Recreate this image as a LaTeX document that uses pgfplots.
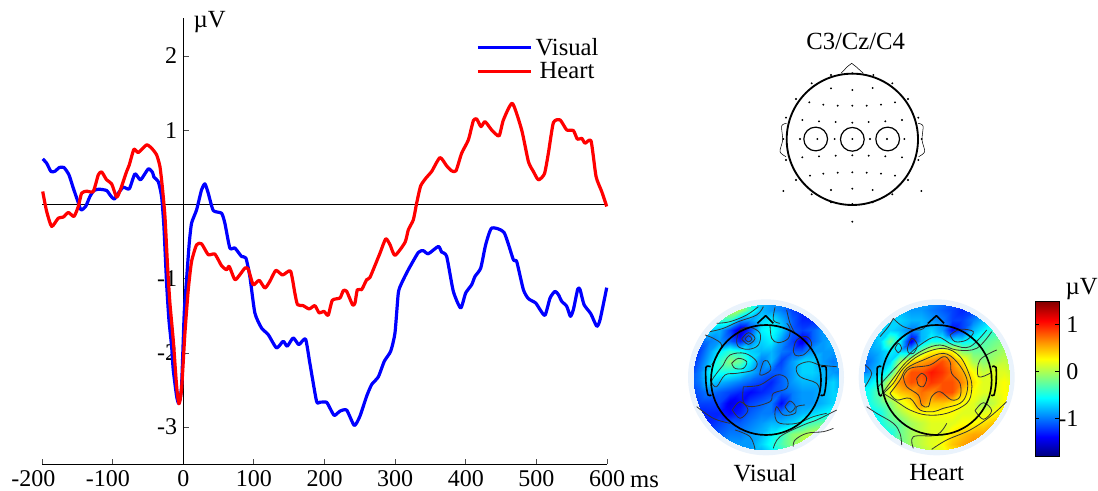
\documentclass[border=0pt]{standalone}
\usepackage{fontspec}
\setmainfont{Liberation Serif}
\usepackage{pgfplots}
\pgfplotsset{compat=1.18}
\newcommand{\bigf}{\fontsize{18.5}{20}\selectfont}
\newcommand{\tickf}{\fontsize{18}{20}\selectfont}
\definecolor{ringc}{HTML}{EAF3FC}
\pgfplotsset{
  hidden/.style={hide axis, scale only axis, clip=false, y dir=reverse},
  cont/.style={no marks, smooth, tension=0.6, color=black!80, line width=0.6pt},
  head/.style={no marks, black, line width=1.2pt, line join=round},
  topo/.style={hide axis, scale only axis, at={(510pt,0.75pt)}, anchor=south west, width=313.5pt, height=150pt,
    xmin=0,xmax=1254,ymin=0,ymax=600, y dir=reverse, clip=false, colormap/jet, point meta min=-1.95, point meta max=1.5},
}
\pgfplotstableread{
t v
-199 .614
-193.4 .556
-187.3 .444
-181.6 .448
-175.5 .498
-168.9 .498
-161.8 .399
-155.7 .220
-150 .063
-144.8 -.072
-138.2 -.027
-132.1 .108
-126.4 .188
-119.3 .206
-108.5 .188
-102.8 .117
-97.6 .072
-92 .152
-84.9 .233
-76.4 .211
-68.4 .413
-60.4 .332
-49.5 .480
-43.4 .430
-41.5 .368
-35.4 .309
-30.7 .108
-27.4 -.296
-23.6 -1.058
-20.3 -1.552
-16.5 -1.910
-14.2 -2.224
-9.4 -2.583
-6.1 -2.682
-2.4 -2.448
1.4 -1.462
4.7 -1.013
8.5 -.520
11.8 -.251
18.9 -.072
25.9 .197
30.7 .278
35.4 .152
42.5 -.081
54.2 -.117
58.9 -.251
66 -.587
73.1 -.587
82.5 -.700
88.7 -.722
94.3 -.969
101.4 -1.462
110.8 -1.664
120.3 -1.753
132.1 -1.933
141.5 -1.843
147.2 -1.910
155.7 -1.798
163.7 -1.888
173.1 -1.812
179.2 -2.135
188.7 -2.650
193.4 -2.664
202.8 -2.664
207.5 -2.740
213.9 -2.843
221.9 -2.785
231.4 -2.771
242.2 -2.978
250.2 -2.852
259.7 -2.583
266.8 -2.426
276.2 -2.323
284.7 -2.112
293.7 -1.978
299.8 -1.731
304.5 -1.193
309.3 -1.058
318.7 -.879
332.9 -.646
340 -.623
347 -.664
361.2 -.565
365.9 -.641
373 -.700
382.4 -1.170
392.8 -1.395
399.9 -1.193
408.4 -1.081
413.1 -.969
421.2 -.857
428.2 -.543
436.7 -.318
454.2 -.377
467.4 -.744
472.1 -.767
481.6 -1.148
488.7 -1.269
499 -1.327
505.2 -1.417
512.3 -1.493
519.4 -1.260
526.4 -1.170
531.2 -1.215
535.9 -1.305
543 -1.372
548.2 -1.507
552.4 -1.417
558.6 -1.139
561.9 -1.148
567.5 -1.350
577 -1.471
585.5 -1.641
590.2 -1.552
599.6 -1.121
}\visualerp
\pgfplotstableread{
t v
-199 .175
-193.4 -.094
-186.3 -.296
-176.9 -.184
-169.8 -.170
-162.7 -.108
-154.7 -.161
-148.6 -.027
-143.9 .152
-136.8 .179
-127.4 .175
-120.3 .399
-115.6 .439
-108.5 .332
-101.4 .278
-94.3 .099
-88.7 .206
-80.2 .444
-76.4 .534
-69.8 .744
-63.7 .700
-51.9 .803
-44.8 .758
-37.7 .668
-33 .511
-29.7 .242
-25.9 -.161
-22.2 -.834
-18.9 -1.327
-14.2 -1.821
-9.4 -2.448
-6.1 -2.686
-2.4 -2.493
2.4 -1.731
7.1 -1.148
11.8 -.767
18.9 -.543
25.9 -.529
35.4 -.677
44.8 -.668
54.2 -.825
61.3 -.879
65.1 -.834
73.1 -1.013
80.2 -.946
87.3 -.857
92 -.870
99.1 -1.081
107.5 -1.022
115.6 -1.126
122.6 -1.036
131.1 -.888
140.6 -.951
151.9 -.897
158 -1.193
161.8 -1.350
169.8 -1.363
178.3 -1.408
186.3 -1.363
192.5 -1.462
199.1 -1.439
205.2 -1.493
211.1 -1.291
221.9 -1.260
226.6 -1.161
231.4 -1.170
239.8 -1.354
243.2 -1.327
246.5 -1.148
252.6 -1.148
259.7 -1.013
264.4 -.982
278.6 -.655
286.7 -.462
292.8 -.543
299.8 -.686
314 -.511
318.7 -.341
325.8 -.206
330.5 .018
336.2 .251
344.7 .368
351.7 .444
363.5 .632
373 .520
380.1 .453
386.2 .453
394.2 .691
403.7 .870
410.8 1.130
415.5 1.152
421.6 1.049
427.3 1.117
436.7 1.004
447.1 .924
453.3 1.139
466 1.363
479.2 1.004
488.7 .578
495.8 .444
502.9 .332
511.4 .413
517 .691
524.1 1.103
533.6 1.139
543 1.004
552.4 .996
558.1 .879
564.2 .892
568.9 .825
577.4 .857
584.5 .377
592.5 .175
599.6 -.027
}\hearterp
\begin{document}
\begin{tikzpicture}[font=\bigf]
\path[use as bounding box] (0,0) rectangle (823.5pt,368.25pt);
% main ERP axis
\begin{axis}[
  scale only axis, at={(31.5pt,20.25pt)}, anchor=south west,
  width=423.75pt, height=334.5pt,
  xmin=-200, xmax=600, ymin=-3.497, ymax=2.513,
  axis x line=bottom, axis y line=center, axis line style={-, line width=0.7pt},
  tick style={black!70, line width=0.6pt}, tick align=inside, major tick length=4pt,
  xtick={-200,-100,0,100,200,300,400,500,600},
  xticklabels={-200\kern13pt,-100\kern7pt,0,100,200,300,400,500,600},
  ytick={-3,-2,-1,1,2}, yticklabels={-3,-2,-1,1,2},
  tick label style={font=\tickf},
  xticklabel style={yshift=-1.5pt},
  yticklabel style={xshift=-1pt},
  clip=false,
  legend style={at={(0.766,0.962)}, anchor=north west, draw=none, fill=none, font=\bigf, row sep=1.5pt, inner sep=1pt, nodes={inner ysep=1.2pt}},
  legend image code/.code={\draw[#1] (0pt,0pt) -- (40pt,0pt);},
]
\addplot[black, line width=0.7pt, forget plot] coordinates {(-200,0)(600,0)};
\addplot[blue, line width=2.4pt, smooth, tension=0.35, line join=round] table[x=t,y=v]{\visualerp};
\addlegendentry{Visual}
\addplot[red, line width=2.4pt, smooth, tension=0.35, line join=round] table[x=t,y=v]{\hearterp};
\addlegendentry{Heart}
\node[anchor=west] at (axis cs:8,2.46) {µV};
\node[anchor=west] at (axis cs:626,-3.74) {ms};
\end{axis}
% electrode montage
\begin{axis}[hidden, at={(570pt,195.75pt)}, anchor=south west, width=135pt, height=157.5pt,
  xmin=0,xmax=540,ymin=0,ymax=630]
\addplot[only marks, mark=*, mark size=0.5pt, black] coordinates {
(213,165)(340,165)(277,160)(155,190)(397,190)(213,205)(277,210)(338,204)(108,237)(444,237)
(148,247)(405,247)(190,254)(233,257)(277,257)(320,257)(363,254)(78,293)(475,293)
(127,300)(177,304)(227,306)(277,308)(326,306)(376,304)(426,300)
(70,357)(120,357)(172,357)(224,357)(277,357)(330,357)(381,357)(433,357)(485,357)
(127,412)(177,409)(227,407)(277,406)(326,407)(376,409)(426,412)(78,420)(475,420)
(150,467)(190,461)(233,458)(277,457)(320,458)(363,461)(405,467)(108,480)(444,480)
(70,513)(484,513)(213,510)(277,506)(338,510)(155,523)(397,523)(213,547)(277,552)(338,547)(277,605)};
\draw[black, line width=1.4pt] (axis cs:277,358) circle (49.25pt);
\draw[black, line width=0.9pt] (axis cs:167,357) circle (8.9pt);
\draw[black, line width=0.9pt] (axis cs:277,358) circle (8.9pt);
\draw[black, line width=0.9pt] (axis cs:383,357) circle (8.9pt);
\addplot[no marks, black, line width=0.4pt] coordinates {(243,160)(262,140)(275,130)(288,140)(310,160)};
\addplot[no marks, smooth, black, line width=0.4pt] coordinates {(80,310)(65,318)(68,360)(60,395)(78,410)};
\addplot[no marks, smooth, black, line width=0.4pt] coordinates {(474,310)(489,318)(486,360)(494,395)(476,410)};
\node[font=\bigf] at (axis cs:287,65) {C3/Cz/C4};
\end{axis}
% Visual map
\begin{axis}[topo]
\draw[draw=none, fill=ringc] (axis cs:258,262) circle (58.5pt);
\draw[draw=none, fill=ringc] (axis cs:770,262) circle (58.5pt);
\end{axis}
\begin{scope}
\clip (510pt,0.75pt) ++(64.5pt,84.5pt) circle (54.5pt);
\begin{axis}[topo]
\addplot[matrix plot*, shader=interp, mesh/cols=15, point meta=explicit]
 table[row sep=\\, header=false, x expr={40+31*mod(\coordindex,15)}, y expr={44+31*floor(\coordindex/15)}, meta index=0]{
-0.6\\-0.6\\-0.5\\-0.4\\-0.2\\-0.1\\-0.4\\-0.9\\-1.0\\-1.1\\-1.2\\-1.3\\-1.3\\-1.3\\-1.3\\
-0.5\\-0.5\\-0.4\\-0.2\\0.0\\-0.1\\-0.5\\-0.9\\-1.0\\-1.1\\-1.3\\-1.4\\-1.4\\-1.4\\-1.4\\
-0.8\\-0.8\\-0.6\\-0.5\\-0.5\\-1.0\\-1.0\\-0.8\\-0.7\\-0.9\\-1.2\\-1.4\\-1.4\\-1.4\\-1.3\\
-1.0\\-0.9\\-0.8\\-0.9\\-1.3\\-1.7\\-1.3\\-0.7\\-0.6\\-0.8\\-1.2\\-1.3\\-1.2\\-1.0\\-1.0\\
-1.3\\-1.2\\-1.1\\-1.0\\-1.2\\-1.4\\-1.1\\-0.8\\-0.7\\-1.0\\-1.3\\-1.6\\-1.2\\-1.0\\-0.9\\
-1.5\\-1.3\\-1.0\\-0.7\\-0.5\\-0.6\\-0.8\\-0.9\\-0.9\\-1.1\\-1.2\\-1.2\\-1.0\\-1.0\\-1.0\\
-1.5\\-1.2\\-0.9\\-0.5\\-0.2\\-0.3\\-0.7\\-1.1\\-0.9\\-1.3\\-1.0\\-0.8\\-0.8\\-1.0\\-1.1\\
-1.4\\-1.1\\-0.7\\-0.6\\-0.6\\-0.7\\-0.9\\-1.1\\-1.2\\-1.2\\-1.0\\-0.8\\-0.8\\-0.9\\-1.0\\
-1.3\\-1.1\\-0.8\\-0.9\\-1.0\\-1.1\\-1.2\\-1.3\\-1.4\\-1.2\\-1.0\\-0.9\\-0.9\\-0.9\\-0.8\\
-1.3\\-1.2\\-1.1\\-1.2\\-1.3\\-1.4\\-1.5\\-1.4\\-1.3\\-1.2\\-1.1\\-1.0\\-1.0\\-0.9\\-0.8\\
-1.4\\-1.3\\-1.3\\-1.3\\-1.6\\-1.5\\-1.3\\-1.2\\-1.1\\-1.5\\-1.1\\-1.0\\-1.0\\-0.9\\-0.8\\
-1.4\\-1.4\\-1.4\\-1.4\\-1.5\\-1.4\\-1.2\\-1.1\\-1.1\\-1.1\\-1.0\\-0.9\\-0.8\\-0.7\\-0.6\\
-1.4\\-1.4\\-1.4\\-1.3\\-1.2\\-1.2\\-1.1\\-1.0\\-0.9\\-0.9\\-0.8\\-0.6\\-0.4\\-0.3\\-0.2\\
-1.3\\-1.3\\-1.3\\-1.2\\-1.1\\-1.1\\-1.0\\-0.9\\-0.7\\-0.5\\-0.2\\-0.1\\0.0\\0.0\\0.0\\
-1.2\\-1.2\\-1.2\\-1.1\\-1.0\\-1.0\\-1.0\\-0.8\\-0.6\\-0.4\\-0.2\\0.0\\0.0\\0.0\\0.0\\
};
\end{axis}
\end{scope}
% Heart map
\begin{scope}
\clip (510pt,0.75pt) ++(192.5pt,84.5pt) circle (54.5pt);
\begin{axis}[topo]
\addplot[matrix plot*, shader=interp, mesh/cols=15, point meta=explicit]
 table[row sep=\\, header=false, x expr={552+31*mod(\coordindex,15)}, y expr={44+31*floor(\coordindex/15)}, meta index=0]{
-1.0\\-1.0\\-1.0\\-1.0\\-1.0\\-1.0\\-1.0\\-1.0\\-1.1\\-1.2\\-1.3\\-1.3\\-1.2\\-1.1\\-1.0\\
-1.1\\-1.1\\-1.0\\-0.9\\-0.9\\-1.0\\-1.0\\-1.1\\-1.2\\-1.3\\-1.4\\-1.3\\-1.1\\-1.0\\-0.9\\
-1.1\\-1.0\\-0.9\\-0.8\\-0.8\\-0.9\\-0.9\\-1.0\\-1.1\\-1.3\\-1.3\\-1.1\\-0.9\\-0.7\\-0.6\\
-1.1\\-1.0\\-0.8\\-0.8\\-0.9\\-1.1\\-0.9\\-0.8\\-1.0\\-1.5\\-1.3\\-0.9\\-0.7\\-0.5\\-0.4\\
-1.1\\-1.0\\-0.8\\-0.3\\-0.7\\-1.6\\-0.9\\-0.6\\-0.6\\-0.7\\-0.7\\-0.6\\-0.4\\-0.3\\-0.2\\
-1.1\\-1.0\\-0.9\\-0.7\\-0.8\\-0.8\\-0.2\\0.2\\0.3\\0.2\\-0.2\\-0.3\\-0.3\\-0.2\\-0.1\\
-1.2\\-1.1\\-0.9\\-0.8\\-0.1\\0.3\\0.5\\0.6\\0.8\\0.6\\0.3\\-0.1\\-0.2\\-0.1\\0.0\\
-1.3\\-1.0\\-0.8\\-0.5\\0.3\\0.8\\0.8\\1.0\\0.9\\0.7\\0.5\\0.2\\0.0\\0.1\\0.1\\
-1.0\\-0.8\\-0.5\\0.1\\0.6\\0.8\\0.7\\0.9\\0.8\\0.8\\0.6\\0.3\\0.1\\0.1\\0.2\\
-0.8\\-0.6\\-0.3\\0.2\\0.4\\0.5\\0.7\\0.6\\0.8\\0.8\\0.4\\0.2\\0.1\\0.1\\0.2\\
-0.7\\-0.6\\-0.4\\-0.2\\0.1\\0.3\\0.6\\0.4\\0.4\\0.3\\0.2\\0.1\\-0.1\\0.0\\0.2\\
-0.7\\-0.7\\-0.6\\-0.3\\-0.1\\0.1\\0.2\\0.2\\0.2\\0.2\\0.1\\0.1\\0.1\\0.2\\0.3\\
-0.7\\-0.7\\-0.6\\-0.4\\-0.3\\-0.1\\0.0\\0.1\\0.1\\0.1\\0.2\\0.2\\0.3\\0.4\\0.4\\
-0.7\\-0.7\\-0.7\\-0.6\\-0.3\\-0.1\\0.0\\0.1\\0.1\\0.3\\0.4\\0.5\\0.5\\0.5\\0.5\\
-0.7\\-0.7\\-0.7\\-0.5\\-0.3\\-0.1\\0.0\\0.1\\0.2\\0.4\\0.5\\0.6\\0.6\\0.6\\0.6\\
};
\end{axis}
\end{scope}
% overlay: contours, heads and labels
\begin{axis}[topo]
% Visual contours
\addplot[cont] coordinates {(110,100)(150,95)(200,75)(235,50)};
\addplot[cont] coordinates {(90,125)(130,115)(175,95)(230,75)(250,50)};
\addplot[cont] coordinates {(170,150)(180,120)(210,112)(240,130)(235,165)(205,178)(175,170)(170,150)};
\addplot[cont] coordinates {(185,147)(205,128)(225,145)(205,163)(185,147)};
\addplot[cont] coordinates {(195,147)(205,137)(216,147)(205,156)(195,147)};
\addplot[cont] coordinates {(270,105)(275,145)(295,158)(325,145)(330,115)(320,100)};
\addplot[cont] coordinates {(340,180)(350,150)(380,140)(395,165)(370,195)(345,195)(340,180)};
\addplot[cont] coordinates {(155,220)(175,205)(200,215)(190,235)(165,235)(155,220)};
\addplot[cont] coordinates {(130,225)(150,195)(195,190)(230,215)(220,240)(170,250)(135,255)(110,290)(95,275)(110,250)(130,225)};
\addplot[cont] coordinates {(190,290)(240,285)(290,255)(320,265)(320,295)(280,310)(270,335)(215,350)(190,335)(190,290)};
\addplot[cont] coordinates {(157,360)(180,335)(204,360)(180,385)(157,360)};
\addplot[cont] coordinates {(315,350)(330,333)(346,350)(330,367)(315,350)};
\addplot[cont] coordinates {(375,345)(350,350)(345,370)(310,375)(290,350)(285,380)(300,400)(350,400)(400,380)(440,370)};
\addplot[cont] coordinates {(340,470)(345,450)(380,430)(430,425)(460,415)};
\addplot[cont] coordinates {(280,475)(300,440)(370,405)(410,390)(470,360)};
\addplot[cont] coordinates {(50,350)(100,385)(150,400)};
\addplot[cont] coordinates {(225,478)(210,440)(165,420)};
\addplot[cont] coordinates {(470,230)(420,225)(385,215)(350,230)(360,260)(410,280)(420,310)};
\addplot[cont] coordinates {(285,52)(280,90)(300,100)};
\addplot[cont] coordinates {(320,60)(330,100)(345,130)};
\addplot[cont] coordinates {(75,135)(100,145)(125,165)(110,200)(95,225)};
\addplot[cont] coordinates {(250,215)(262,212)(272,240)(240,255)(250,215)};
% Heart contours
\addplot[cont] coordinates {(610,310)(640,280)(670,235)(720,195)(790,175)(840,200)(870,260)(875,300)(860,340)(800,370)(740,375)(690,360)(650,335)(610,310)};
\addplot[cont] coordinates {(630,310)(660,270)(680,235)(730,210)(790,190)(830,215)(860,265)(860,310)(840,340)(790,355)(760,365)(720,360)(690,325)(650,330)(630,310)};
\addplot[cont] coordinates {(670,260)(690,235)(750,225)(790,200)(810,215)(815,250)(840,280)(840,320)(815,330)(780,305)(755,320)(745,350)(725,345)(715,315)(680,290)(670,260)};
\addplot[cont] coordinates {(710,265)(725,250)(740,265)(730,290)(715,285)(710,265)};
\addplot[cont] coordinates {(600,320)(640,265)(680,215)(730,180)(780,165)(830,180)(890,175)(935,125)};
\addplot[cont] coordinates {(595,290)(640,240)(680,200)(720,165)(770,140)(820,165)(870,170)(920,120)};
\addplot[cont] coordinates {(682,175)(695,145)(712,165)(700,190)(685,188)(682,175)};
\addplot[cont] coordinates {(645,175)(655,160)(665,175)(655,188)(645,175)};
\addplot[cont] coordinates {(810,135)(840,118)(880,125)(860,150)(825,155)(810,135)};
\addplot[cont] coordinates {(755,478)(800,450)(870,420)(930,380)(980,335)};
\addplot[cont] coordinates {(700,475)(700,440)(770,435)(800,400)};
\addplot[cont] coordinates {(665,465)(660,430)(640,400)(590,370)(560,350)};
\addplot[cont] coordinates {(885,362)(910,338)(935,362)(910,388)(885,362)};
\addplot[cont] coordinates {(950,180)(900,210)(895,260)(930,250)};
\addplot[cont] coordinates {(640,85)(670,110)(720,120)(745,100)};
\addplot[cont] coordinates {(600,140)(625,110)(640,85)};
\addplot[cont] coordinates {(555,225)(575,250)(555,290)};
% heads
\draw[black, line width=1.25pt] (axis cs:258,270) circle (41.25pt);
\draw[black, line width=1.25pt] (axis cs:770,270) circle (41.25pt);
\addplot[head] coordinates {(232,100)(257,77)(280,100)};
\addplot[head] coordinates {(744,100)(769,77)(792,100)};
\addplot[head, smooth] coordinates {(92,230)(78,232)(78,280)(84,315)(94,315)};
\addplot[head, smooth] coordinates {(424,230)(438,232)(438,280)(432,315)(422,315)};
\addplot[head, smooth] coordinates {(604,230)(592,232)(592,280)(598,315)(606,315)};
\addplot[head, smooth] coordinates {(936,230)(948,232)(948,280)(942,315)(934,315)};
\node at (axis cs:255,548) {Visual};
\node at (axis cs:770,548) {Heart};
\end{axis}
% colour bar
\begin{axis}[scale only axis, at={(776.25pt,26.25pt)}, anchor=south west, width=18pt, height=116.25pt,
  xmin=0, xmax=1, ymin=-1.79, ymax=1.5, xtick=\empty,
  ytick={-1,0,1}, yticklabels={-1,0,1}, yticklabel pos=right, tick align=inside, major tick length=3pt,
  tick style={black, line width=0.5pt}, tick label style={font=\tickf},
  yticklabel style={anchor=east, xshift=18pt},
  axis line style={line width=0.6pt}, colormap/jet, point meta min=-1.79, point meta max=1.5,
  axis on top, clip=false]
\addplot[surf, shader=interp, mesh/cols=2, point meta=y] coordinates {
(0,-1.79)(1,-1.79)(0,-1.4)(1,-1.4)(0,-1)(1,-1)(0,-0.6)(1,-0.6)(0,-0.2)(1,-0.2)(0,0.2)(1,0.2)(0,0.6)(1,0.6)(0,1)(1,1)(0,1.5)(1,1.5)};
\node[anchor=west] at (axis cs:1.08,1.75) {µV};
\end{axis}
\end{tikzpicture}
\end{document}
